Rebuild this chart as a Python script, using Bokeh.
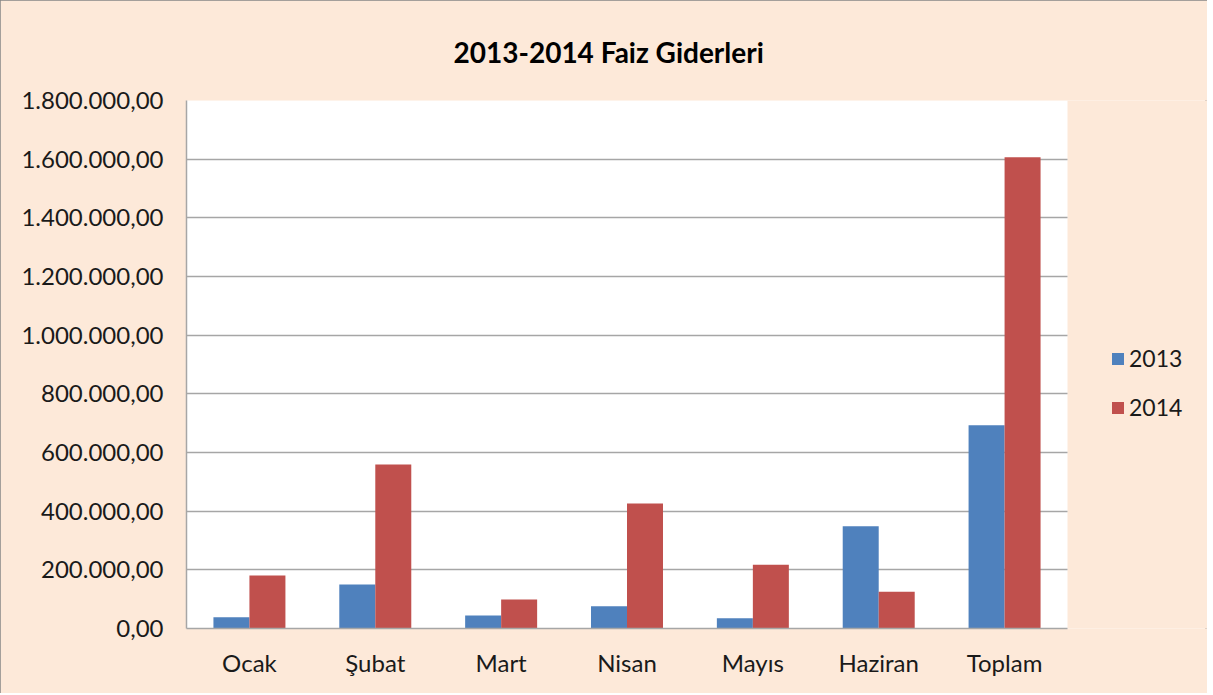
from bokeh.plotting import figure
from bokeh.models import (ColumnDataSource, Range1d, FixedTicker, BoxAnnotation, Grid,
                          CustomJSTickFormatter, Legend, LegendItem, Title)
from bokeh.embed import file_html
from bokeh.resources import INLINE

categories = ["Ocak", "Şubat", "Mart", "Nisan", "Mayıs", "Haziran", "Toplam"]
series_names = ["2013", "2014"]
values_2013 = [38500, 150000, 44000, 76000, 35000, 349000, 692500]
values_2014 = [180700, 559000, 99000, 426000, 217000, 125000, 1606700]
y_ticks = [0, 200000, 400000, 600000, 800000, 1000000, 1200000, 1400000, 1600000, 1800000]
title_text = "2013-2014 Faiz Giderleri"

BG = "#FDE9D9"
BLUE = "#4F81BD"
RED = "#C0504D"
GRID = "#A6A6A6"
FONT = "Lato"

W, H = 1207, 693
LEFT, TOP, BOTTOM = 186, 100, 65
PLOT_W = 881  # width of the white plot area in px

n = len(categories)
centers = [i + 0.5 for i in range(n)]
bw = 0.286
src = ColumnDataSource(dict(
    x1=[c - bw / 2 for c in centers], x2=[c + bw / 2 for c in centers],
    v2013=values_2013, v2014=values_2014))

x_end = n * (W - LEFT) / PLOT_W
p = figure(width=W, height=H, x_range=Range1d(0, x_end),
           y_range=Range1d(0, 1800000), output_backend="svg", toolbar_location=None,
           min_border_left=LEFT, min_border_right=0, min_border_top=TOP,
           min_border_bottom=BOTTOM)
p.background_fill_color = BG
p.border_fill_color = BG
p.outline_line_color = None

# white plot area
p.add_layout(BoxAnnotation(left=0, right=n, fill_color="white", fill_alpha=1,
                           line_color=None, level="underlay"))

p.xgrid.grid_line_color = None
p.ygrid.grid_line_color = None
ygrid = Grid(dimension=1, ticker=FixedTicker(ticks=y_ticks), grid_line_color=GRID,
             grid_line_width=1.5, level="underlay")
try:
    ygrid.cross_bounds = (0, n)
except Exception:
    pass
p.add_layout(ygrid)

r1 = p.vbar(x="x1", top="v2013", width=bw, source=src, fill_color=BLUE, line_color=None)
r2 = p.vbar(x="x2", top="v2014", width=bw, source=src, fill_color=RED, line_color=None)

p.yaxis.ticker = FixedTicker(ticks=y_ticks)
p.yaxis.formatter = CustomJSTickFormatter(code="""
var s = Math.round(tick).toString().replace(/\\B(?=(\\d{3})+(?!\\d))/g, '.');
return s + ',00';
""")
p.xaxis.ticker = FixedTicker(ticks=centers)
p.xaxis.major_label_overrides = {c: lab for c, lab in zip(centers, categories)}
p.xaxis.bounds = (0, n)
for ax in (p.xaxis[0], p.yaxis[0]):
    ax.axis_line_color = GRID
    ax.axis_line_width = 1.5
    ax.major_tick_line_color = None
    ax.minor_tick_line_color = None
    ax.major_tick_out = 0
    ax.major_tick_in = 0
    ax.major_label_text_font = FONT
    ax.major_label_text_font_size = "24px"
    ax.major_label_text_color = "#1a1a1a"
p.yaxis.major_label_standoff = 23
p.xaxis.major_label_standoff = 19

legend = Legend(items=[LegendItem(label=series_names[0], renderers=[r1]),
                       LegendItem(label=series_names[1], renderers=[r2])],
                location=(924, 207), background_fill_alpha=0, border_line_color=None,
                label_text_font=FONT, label_text_font_size="23px",
                label_text_color="#1a1a1a", glyph_width=15, glyph_height=15,
                spacing=21, label_standoff=4, padding=0, margin=0)
p.add_layout(legend, "center")

p.add_layout(Title(text=title_text, align="left", text_font=FONT,
                   text_font_style="bold", text_font_size="28px", offset=267,
                   text_color="#000000", standoff=63), "above")

p.styles = {"outline": "2px solid #868686", "outline-offset": "-2px"}

open("out.html", "w").write(file_html(p, INLINE))
